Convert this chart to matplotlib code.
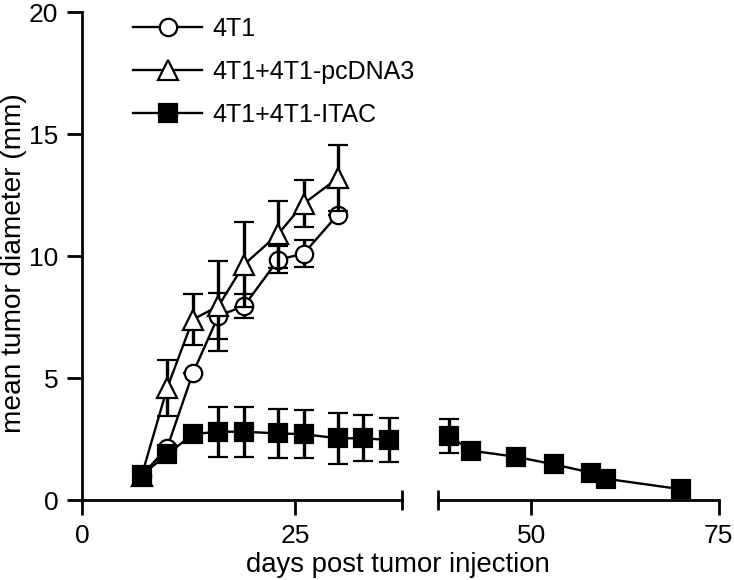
import matplotlib
matplotlib.use('Agg')
import matplotlib.pyplot as plt
from matplotlib.lines import Line2D

plt.rcParams['font.family'] = ['Liberation Sans', 'DejaVu Sans']

# ---- data ----
days_4t1 = [7, 10, 13, 16, 19, 23, 26, 30]
mean_4t1 = [1.0, 2.15, 5.2, 7.55, 7.95, 9.85, 10.1, 11.7]
err_4t1 = [0, 0, 0, 0.95, 0.5, 0.55, 0.55, 0]

days_pc = [7, 10, 13, 16, 19, 23, 26, 30]
mean_pc = [1.0, 4.6, 7.4, 7.95, 9.65, 10.9, 12.15, 13.2]
err_pc = [0, 1.15, 1.05, 1.85, 1.75, 1.37, 0.95, 1.35]

days_itac = [7, 10, 13, 16, 19, 23, 26, 30, 33, 36, 39, 42, 48, 53, 58, 60, 70]
mean_itac = [1.02, 1.87, 2.7, 2.8, 2.8, 2.73, 2.7, 2.53, 2.53, 2.46,
             2.62, 2.02, 1.77, 1.46, 1.12, 0.87, 0.44]
err_itac = [0, 0, 0, 1.03, 1.03, 1.02, 0.98, 1.05, 0.94, 0.9,
            0.69, 0, 0, 0, 0, 0, 0]

labels = ['4T1', '4T1+4T1-pcDNA3', '4T1+4T1-ITAC']
xbreak = 37.5
xticks_left = [0, 25]
xticks_right = [50, 75]
yticks = [0, 5, 10, 15, 20]

W, H = 734, 580
fig = plt.figure(figsize=(W / 100, H / 100), dpi=100)
bottom = 1 - 500 / H
top = 1 - 12.2 / H
ax1 = fig.add_axes([82 / W, bottom, (401.7 - 82) / W, top - bottom])
ax2 = fig.add_axes([437.7 / W, bottom, (718.6 - 437.7) / W, top - bottom], sharey=ax1)

lw = 1.7
ms = 13.5
mew = 1.6
eb = dict(ecolor='black', elinewidth=2.4, capsize=7.5, capthick=2.4)

def split(d, m, e, lo, hi):
    idx = [i for i, x in enumerate(d) if lo <= x <= hi]
    return [d[i] for i in idx], [m[i] for i in idx], [e[i] for i in idx]

for ax, lo, hi in [(ax1, 0, xbreak), (ax2, xbreak, 100)]:
    d, m, e = split(days_4t1, mean_4t1, err_4t1, lo, hi)
    if d:
        ax.errorbar(d, m, yerr=e, color='black', lw=lw, marker='o', ms=ms - 1,
                    mfc='white', mec='black', mew=mew, clip_on=False, zorder=3, **eb)
    d, m, e = split(days_pc, mean_pc, err_pc, lo, hi)
    if d:
        ax.errorbar(d, m, yerr=e, color='black', lw=lw, marker='^', ms=ms + 1,
                    mfc='white', mec='black', mew=mew, clip_on=False, zorder=4, **eb)
    d, m, e = split(days_itac, mean_itac, err_itac, lo, hi)
    if d:
        ax.errorbar(d, m, yerr=e, color='black', lw=lw, marker='s', ms=ms,
                    mfc='black', mec='black', mew=mew, clip_on=False, zorder=5, **eb)

ax1.set_xlim(0, xbreak)
ax2.set_xlim(xbreak, 75)
ax1.set_ylim(0, 20)

for ax in (ax1, ax2):
    for s in ('top', 'right'):
        ax.spines[s].set_visible(False)
    for s in ('left', 'bottom'):
        ax.spines[s].set_linewidth(2)
    ax.tick_params(axis='both', which='major', length=11, width=2,
                   labelsize=19, direction='out', pad=6)
    ax.tick_params(axis='x', which='minor', length=14, width=2, direction='inout')

ax2.spines['left'].set_visible(False)
ax2.tick_params(axis='y', left=False, labelleft=False)

ax1.set_xticks(xticks_left)
ax1.set_xticks([xbreak], minor=True)
ax2.set_xticks(xticks_right)
ax2.set_xticks([xbreak], minor=True)
ax1.set_yticks(yticks)

fig.text(398 / W, 1 - 565 / H, 'days post tumor injection', ha='center', va='center',
         fontsize=19.8)
fig.text(14 / W, 1 - 263 / H, 'mean tumor diameter (mm)', ha='center', va='center',
         rotation=90, fontsize=20.2)

handles = [
    Line2D([], [], color='black', lw=lw, marker='o', ms=ms - 1, mfc='white', mec='black', mew=mew),
    Line2D([], [], color='black', lw=lw, marker='^', ms=ms + 1, mfc='white', mec='black', mew=mew),
    Line2D([], [], color='black', lw=lw, marker='s', ms=ms, mfc='black', mec='black', mew=mew),
]
ax1.legend(handles, labels, loc='upper left', bbox_to_anchor=(0.16, 0.991),
           frameon=False, fontsize=18, handlelength=2.75, handletextpad=0.4,
           labelspacing=0.77, borderpad=0, borderaxespad=0)

fig.savefig('out.png', dpi=100)
